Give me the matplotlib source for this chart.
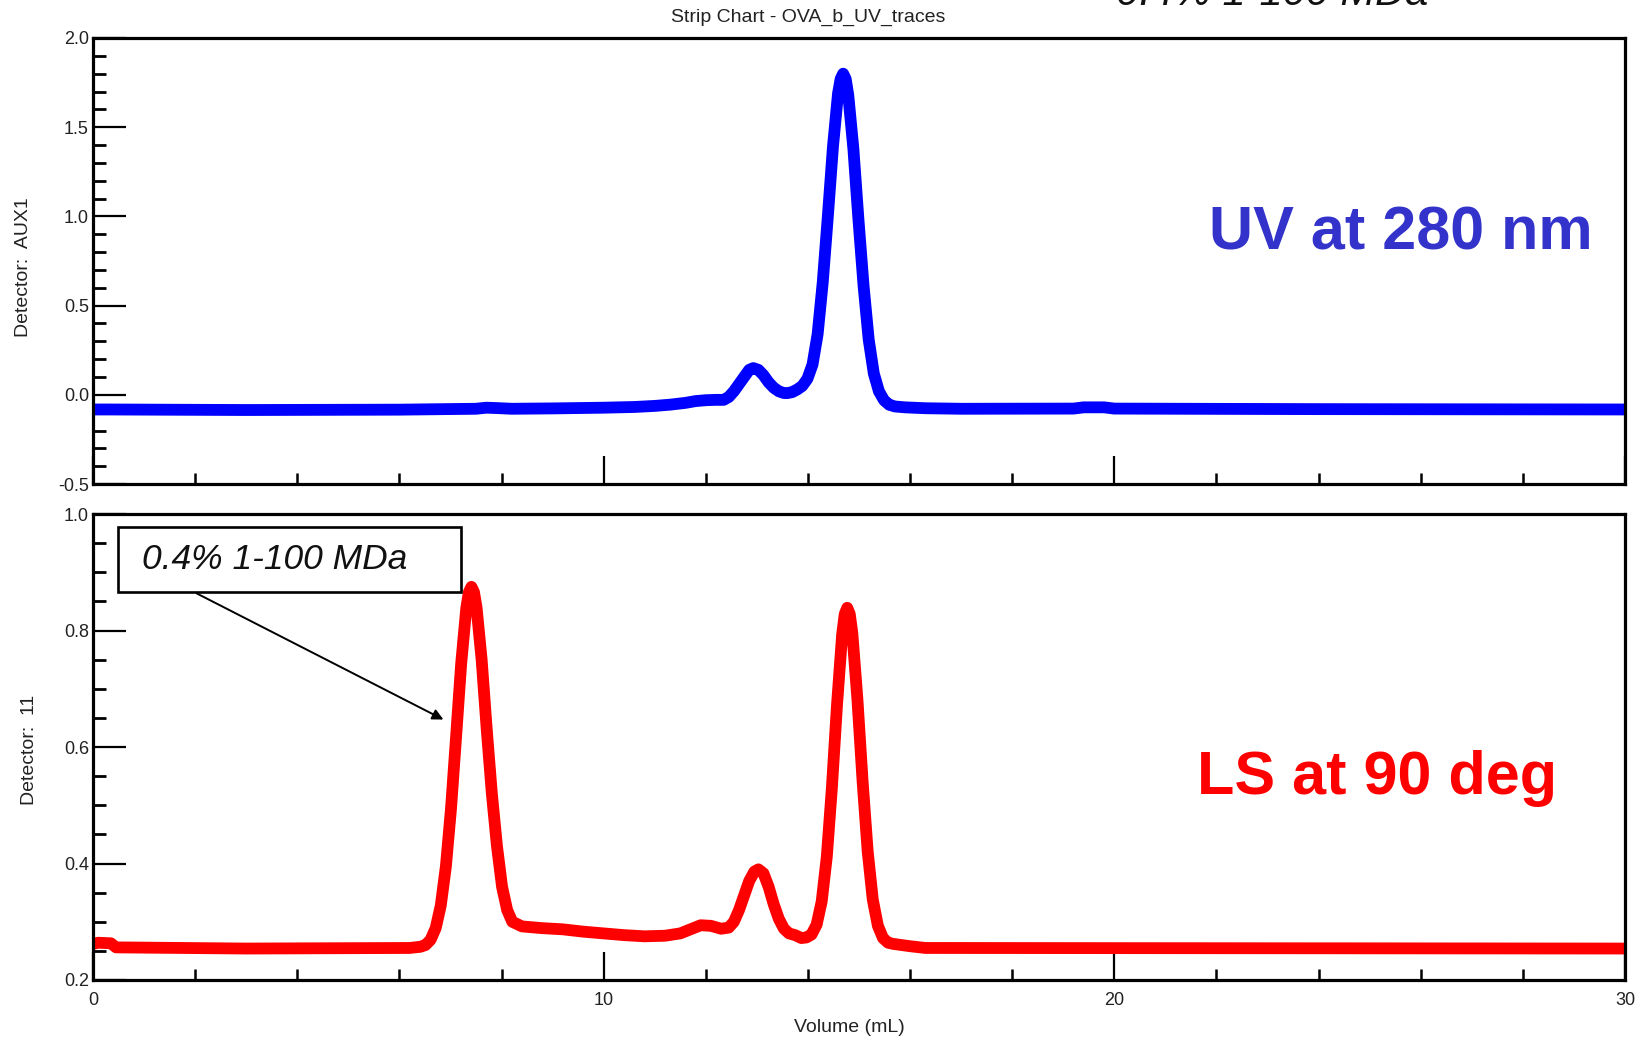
import matplotlib
matplotlib.use("Agg")
import matplotlib.pyplot as plt
from matplotlib.ticker import MultipleLocator, FormatStrFormatter
from matplotlib.patches import Rectangle

plt.rcParams['font.family'] = ['Liberation Sans', 'DejaVu Sans']

# UV trace (Detector AUX1)
uv_x = [0, 0.3, 3.0, 6.0, 7.5, 7.7, 7.9, 8.2, 9.0, 10.0,
        10.6, 11.0, 11.3, 11.6, 11.8, 12.0, 12.2, 12.35, 12.45, 12.55,
        12.65, 12.75, 12.85, 12.93, 13.03, 13.13, 13.23, 13.33, 13.43, 13.53,
        13.6, 13.69, 13.79, 13.89, 13.99, 14.09, 14.19, 14.29, 14.39, 14.49,
        14.59, 14.64, 14.69, 14.74, 14.79, 14.89, 14.99, 15.09, 15.19, 15.29,
        15.39, 15.49, 15.59, 15.7, 15.9, 16.3, 17.0, 19.2, 19.4, 19.8,
        20.0, 24.0, 30.0]
uv_y = [-0.082, -0.082, -0.085, -0.083, -0.078, -0.072, -0.074, -0.078, -0.076, -0.072,
        -0.068, -0.062, -0.055, -0.045, -0.035, -0.030, -0.028, -0.028, -0.012, 0.02,
        0.06, 0.10, 0.14, 0.15, 0.14, 0.11, 0.07, 0.04, 0.02, 0.01,
        0.01, 0.015, 0.03, 0.05, 0.09, 0.17, 0.34, 0.63, 1.00, 1.39,
        1.69, 1.77, 1.80, 1.77, 1.68, 1.38, 0.98, 0.61, 0.31, 0.12,
        0.02, -0.03, -0.055, -0.065, -0.07, -0.075, -0.078, -0.077, -0.07, -0.07,
        -0.077, -0.08, -0.082]

# light scattering trace (Detector 11)
ls_x = [0, 0.1, 0.35, 0.45, 3.0, 6.2, 6.41, 6.51, 6.61, 6.71,
        6.81, 6.91, 7.01, 7.11, 7.21, 7.31, 7.36, 7.41, 7.46, 7.51,
        7.61, 7.71, 7.81, 7.91, 8.01, 8.11, 8.21, 8.4, 8.8, 9.2,
        9.6, 10.0, 10.4, 10.8, 11.2, 11.5, 11.7, 11.9, 12.1, 12.3,
        12.45, 12.55, 12.65, 12.75, 12.85, 12.95, 13.03, 13.13, 13.23, 13.33,
        13.43, 13.53, 13.63, 13.75, 13.87, 13.97, 14.07, 14.17, 14.27, 14.37,
        14.47, 14.57, 14.67, 14.72, 14.77, 14.82, 14.87, 14.97, 15.07, 15.17,
        15.27, 15.37, 15.47, 15.57, 15.67, 16.0, 16.3, 30.0]
ls_y = [0.262, 0.264, 0.263, 0.256, 0.254, 0.255, 0.257, 0.260, 0.269, 0.289,
        0.328, 0.395, 0.494, 0.618, 0.744, 0.839, 0.866, 0.875, 0.866, 0.84,
        0.75, 0.63, 0.52, 0.43, 0.36, 0.32, 0.30, 0.292, 0.289, 0.287,
        0.283, 0.28, 0.277, 0.275, 0.276, 0.28, 0.287, 0.294, 0.293, 0.288,
        0.29, 0.30, 0.32, 0.345, 0.37, 0.386, 0.39, 0.383, 0.36, 0.33,
        0.305, 0.288, 0.28, 0.277, 0.272, 0.273, 0.278, 0.295, 0.335, 0.412,
        0.531, 0.673, 0.793, 0.828, 0.839, 0.828, 0.795, 0.681, 0.542, 0.421,
        0.338, 0.293, 0.272, 0.264, 0.262, 0.258, 0.255, 0.254]

x_ticks = [0, 10, 20, 30]

fig = plt.figure(figsize=(16.44, 10.41), dpi=100)
ax1 = fig.add_axes([0.0566, 0.535, 0.9318, 0.4285])
ax2 = fig.add_axes([0.0566, 0.0586, 0.9318, 0.4476])

ax1.plot(uv_x, uv_y, color='#0000ff', lw=8.5, solid_joinstyle='round')
ax2.plot(ls_x, ls_y, color='#ff0000', lw=8.5, solid_joinstyle='round')

ax1.set_ylim(-0.5, 2.0)
ax2.set_ylim(0.2, 1.0)
ax1.yaxis.set_major_locator(MultipleLocator(0.5))
ax1.yaxis.set_minor_locator(MultipleLocator(0.1))
ax2.yaxis.set_major_locator(MultipleLocator(0.2))
ax2.yaxis.set_minor_locator(MultipleLocator(0.05))

for ax in (ax1, ax2):
    ax.set_xlim(0, 30)
    ax.set_xticks(x_ticks)
    ax.xaxis.set_minor_locator(MultipleLocator(2))
    ax.yaxis.set_major_formatter(FormatStrFormatter('%.1f'))
    for s in ax.spines.values():
        s.set_linewidth(2.3)
    ax.tick_params(axis='y', which='major', direction='in', length=24, width=1.6,
                   labelsize=13, labelcolor='#222222', pad=3, right=False)
    ax.tick_params(axis='y', which='minor', direction='in', length=9.5, width=2.0, right=False)
    ax.tick_params(axis='x', which='major', direction='in', length=20, width=1.6,
                   labelsize=13, labelcolor='#222222', pad=9, top=False)
    ax.tick_params(axis='x', which='minor', direction='in', length=8, width=1.8, top=False)

ax1.tick_params(axis='x', labelbottom=False)

ax1.set_ylabel('Detector:  AUX1', fontsize=14, color='#222222')
ax1.yaxis.set_label_coords(-0.04, 0.487)
ax2.set_ylabel('Detector:  11', fontsize=14, color='#222222')
ax2.yaxis.set_label_coords(-0.036, 0.494)
ax2.text(0.4935, -0.103, 'Volume (mL)', transform=ax2.transAxes, ha='center', va='center',
         fontsize=14, color='#222222')

fig.text(0.4915, 0.9837, 'Strip Chart - OVA_b_UV_traces', ha='center', va='center',
         fontsize=14, color='#222222')

ax1.text(0.854, 0.56, 'UV at 280 nm', transform=ax1.transAxes, ha='center', va='center',
         fontsize=44, fontweight='bold', color='#3333cc')
ax2.text(0.838, 0.433, 'LS at 90 deg', transform=ax2.transAxes, ha='center', va='center',
         fontsize=44, fontweight='bold', color='#ff0000')

# callout box with arrow
ax2.add_patch(Rectangle((0.49, 0.866), 6.72, 0.112, fill=False, edgecolor='black', lw=1.9,
                        zorder=5))
ax2.text(0.96, 0.922, '0.4% 1-100 MDa', fontsize=25.5, style='italic', color='#111111',
         ha='left', va='center', zorder=6)
ax2.annotate('', xy=(6.91, 0.645), xytext=(1.98, 0.866),
             arrowprops=dict(arrowstyle='-|>', color='black', lw=1.4, mutation_scale=16))

# text cut off at the top edge of the page, as in the source
fig.text(0.679, 0.9955, '0.4% 1-100 MDa', fontsize=30, style='italic', color='#111111',
         ha='left', va='baseline')

fig.savefig('out.png', dpi=100)
